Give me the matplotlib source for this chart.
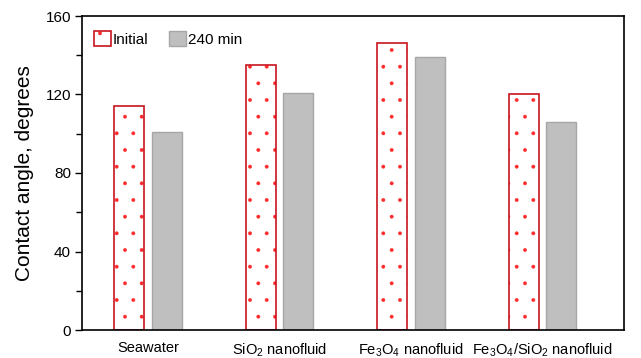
import matplotlib
matplotlib.use("Agg")
import matplotlib.pyplot as plt
import numpy as np
from matplotlib.legend_handler import HandlerTuple

plt.rcParams['font.family'] = ['Liberation Sans', 'DejaVu Sans']
plt.rcParams['mathtext.fontset'] = 'custom'
plt.rcParams['mathtext.rm'] = 'Liberation Sans'
plt.rcParams['hatch.linewidth'] = 0.3

categories = ['Seawater', r'SiO$_\mathregular{2}$ nanofluid', r'Fe$_\mathregular{3}$O$_\mathregular{4}$ nanofluid',
              r'Fe$_\mathregular{3}$O$_\mathregular{4}$/SiO$_\mathregular{2}$ nanofluid']
initial = [114, 135, 146, 120]
after_240 = [101, 121, 139, 106]
series_labels = ['Initial', '240 min']
yticks = [0, 40, 80, 120, 160]

fig = plt.figure(figsize=(6.41, 3.58), dpi=100)
ax = fig.add_axes([82/641, 1 - 330/358, (624-82)/641, (330-16)/358])

x = np.arange(len(categories))
w = 0.228
off = 0.144
b1 = ax.bar(x - off, initial, w, facecolor='white', edgecolor='#ff2a2a', hatch='.', linewidth=0)
b2 = ax.bar(x - off, initial, w, fill=False, edgecolor='#c8141e', linewidth=1.2)
b3 = ax.bar(x + off, after_240, w, facecolor='#bfbfbf', edgecolor='#a6a6a6', linewidth=1.0)

ax.set_xlim(-0.502, 3.62)
ax.set_ylim(0, 160)
ax.set_yticks(yticks)
ax.set_yticks([20, 60, 100, 140], minor=True)
ax.set_xticks(x)
ax.set_xticklabels(categories, fontsize=10.5)
ax.tick_params(axis='x', length=0, pad=8)
ax.tick_params(axis='y', which='major', length=5, width=1, direction='out', labelsize=11, pad=3)
ax.tick_params(axis='y', which='minor', length=4, width=1, direction='out')
for s in ax.spines.values():
    s.set_linewidth(1.2)
    s.set_color('black')
ax.set_ylabel('Contact angle, degrees', fontsize=15, labelpad=8)

leg = ax.legend(handles=[(b1, b2), b3], labels=series_labels,
                handler_map={tuple: HandlerTuple(ndivide=1, pad=0)},
                loc='upper left', bbox_to_anchor=(0.005, 0.98), ncol=2, frameon=False,
                fontsize=11, handlelength=1.1, handleheight=1.1, handletextpad=0.1,
                columnspacing=1.4, borderaxespad=0.2)

fig.savefig('out.png', dpi=100)
